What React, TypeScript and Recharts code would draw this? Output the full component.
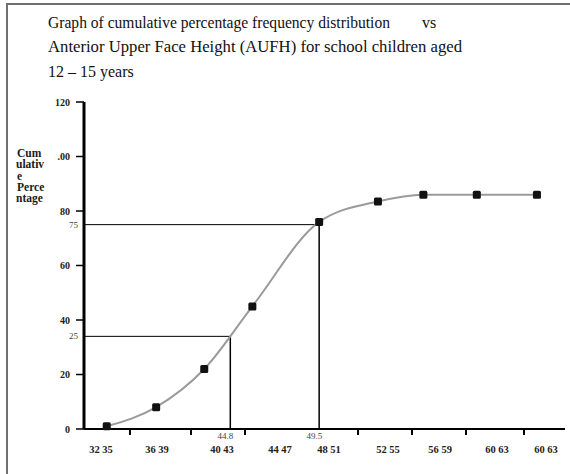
import React from 'react';
import { LineChart, Line, XAxis, YAxis, ReferenceLine } from 'recharts';

// Category labels under the x axis and their positions (AUFH, mm)
const xLabels = ['32 35', '36 39', '40 43', '44 47', '48 51', '52 55', '56 59', '60 63', '60 63'];
const xLabelPos = [31.27, 35.46, 40.33, 44.67, 48.34, 52.75, 56.65, 60.91, 64.58];
// small tick marks on the x axis
const xMarkPos = [33.44, 38.01, 42.05, 50.51, 54.55, 58.59, 62.93];

// Series: cumulative percentage frequency vs AUFH
const aufh = [31.7, 35.4, 39.0, 42.6, 47.6, 52.0, 55.4, 59.4, 63.9];
const cumPct = [1, 8, 22, 45, 76, 83.5, 86, 86, 86];

// y axis ticks
const yTicks = [0, 20, 40, 60, 80, 100, 120];
const yTickLabels = ['0', '20', '40', '60', '80', '.00', '120'];

// quartile guide lines
const lowerGuide = { y: 34, x: 40.95, yLabel: '25', xLabel: '44.8' };
const upperGuide = { y: 75, x: 47.6, yLabel: '75', xLabel: '49.5' };

const data = aufh.map((x, i) => ({ x, pct: cumPct[i] }));

const tickFont = { fontFamily: 'Liberation Serif', fontWeight: 700, fontSize: 10, fill: '#222' };

const SquareDot = (props: any) => {
  const { cx, cy } = props;
  if (cx == null || cy == null) return null;
  return <rect x={cx - 4} y={cy - 4} width={8} height={8} rx={1.5} fill="#111" />;
};

const XLabelTick = (props: any) => {
  const { x, y, payload, index } = props;
  return (
    <text x={x} y={y} textAnchor="middle" dominantBaseline="hanging" {...tickFont} fontSize={10.5}>
      {xLabels[index] ?? String(payload.value)}
    </text>
  );
};

const XMarkTick = (props: any) => {
  const { x, y } = props;
  return <line x1={x} x2={x} y1={y} y2={y + 6} stroke="#000" strokeWidth={2} />;
};

const YLabel = (props: any) => {
  const { viewBox, value } = props;
  if (!viewBox) return null;
  return (
    <text x={viewBox.x - 6} y={viewBox.y + 3} textAnchor="end" fontFamily="Liberation Serif" fontSize={9} fill="#444">
      {value}
    </text>
  );
};

const XBottomLabel = (props: any) => {
  const { viewBox, value } = props;
  if (!viewBox) return null;
  return (
    <text x={viewBox.x + 3} y={viewBox.y + viewBox.height + 10} textAnchor="end" fontFamily="Liberation Serif" fontSize={9} fill="#444">
      {value}
    </text>
  );
};

export default function App() {
  return (
    <div style={{ position: 'fixed', left: 0, top: 0, width: 570, height: 474, background: '#fff', overflow: 'hidden' }}>
      <svg width={570} height={474} style={{ position: 'absolute', left: 0, top: 0, display: 'block' }}>
        <g fontFamily="Liberation Serif" fontSize={16} fill="#111">
          <text x={48} y={28} textLength={342} lengthAdjust="spacingAndGlyphs">
            Graph of cumulative percentage frequency distribution
          </text>
          <text x={422} y={28}>vs</text>
          <text x={48} y={52} textLength={414} lengthAdjust="spacingAndGlyphs">
            Anterior Upper Face Height (AUFH) for school children aged
          </text>
          <text x={48} y={77}>12 – 15 years</text>
        </g>
        <g fontFamily="Liberation Serif" fontWeight={700} fontSize={11.5} fill="#1a1a1a">
          <text x={17} y={157}>Cum</text>
          <text x={16} y={168}>ulativ</text>
          <text x={17} y={180}>e</text>
          <text x={17} y={191}>Perce</text>
          <text x={16} y={202}>ntage</text>
        </g>
      </svg>
      <div style={{ position: 'absolute', left: 0, top: 0 }}>
        <LineChart width={570} height={474} data={data} margin={{ top: 102, right: 5, bottom: 15, left: 54 }}>
          <XAxis
            xAxisId="a_marks"
            dataKey="x"
            type="number"
            domain={[30, 66]}
            ticks={xMarkPos}
            tickSize={0}
            tickMargin={0}
            tickLine={false}
            tick={<XMarkTick />}
            height={8}
            interval={0}
            axisLine={{ stroke: '#000', strokeWidth: 2 }}
          />
          <XAxis
            xAxisId="b_labels"
            dataKey="x"
            type="number"
            domain={[30, 66]}
            ticks={xLabelPos}
            axisLine={false}
            tickLine={false}
            tickSize={0}
            tickMargin={9}
            height={22}
            tick={<XLabelTick />}
            interval={0}
          />
          <YAxis
            type="number"
            domain={[0, 120]}
            ticks={yTicks}
            width={30}
            tickSize={8}
            tickMargin={6}
            tickFormatter={(v: number) => yTickLabels[yTicks.indexOf(v)] ?? String(v)}
            tick={tickFont}
            axisLine={{ stroke: '#000', strokeWidth: 3 }}
            tickLine={{ stroke: '#000', strokeWidth: 1.5 }}
            interval={0}
          />
          <ReferenceLine
            xAxisId="a_marks"
            segment={[{ x: 30, y: lowerGuide.y }, { x: lowerGuide.x, y: lowerGuide.y }]}
            stroke="#000"
            strokeWidth={1}
            label={<YLabel value={lowerGuide.yLabel} />}
          />
          <ReferenceLine
            xAxisId="a_marks"
            segment={[{ x: lowerGuide.x, y: lowerGuide.y }, { x: lowerGuide.x, y: 0 }]}
            stroke="#000"
            strokeWidth={1.5}
            label={<XBottomLabel value={lowerGuide.xLabel} />}
          />
          <ReferenceLine
            xAxisId="a_marks"
            segment={[{ x: 30, y: upperGuide.y }, { x: upperGuide.x, y: upperGuide.y }]}
            stroke="#000"
            strokeWidth={1}
            label={<YLabel value={upperGuide.yLabel} />}
          />
          <ReferenceLine
            xAxisId="a_marks"
            segment={[{ x: upperGuide.x, y: upperGuide.y }, { x: upperGuide.x, y: 0 }]}
            stroke="#000"
            strokeWidth={1.5}
            label={<XBottomLabel value={upperGuide.xLabel} />}
          />
          <Line
            xAxisId="a_marks"
            type="monotone"
            dataKey="pct"
            stroke="#9a9a9a"
            strokeWidth={2}
            dot={<SquareDot />}
            activeDot={false}
            isAnimationActive={false}
          />
        </LineChart>
      </div>
      <div style={{ position: 'absolute', left: 6, top: 3, width: 2, height: 471, background: '#707070' }} />
      <div style={{ position: 'absolute', left: 6, top: 3, width: 564, height: 2, background: '#707070' }} />
    </div>
  );
}
